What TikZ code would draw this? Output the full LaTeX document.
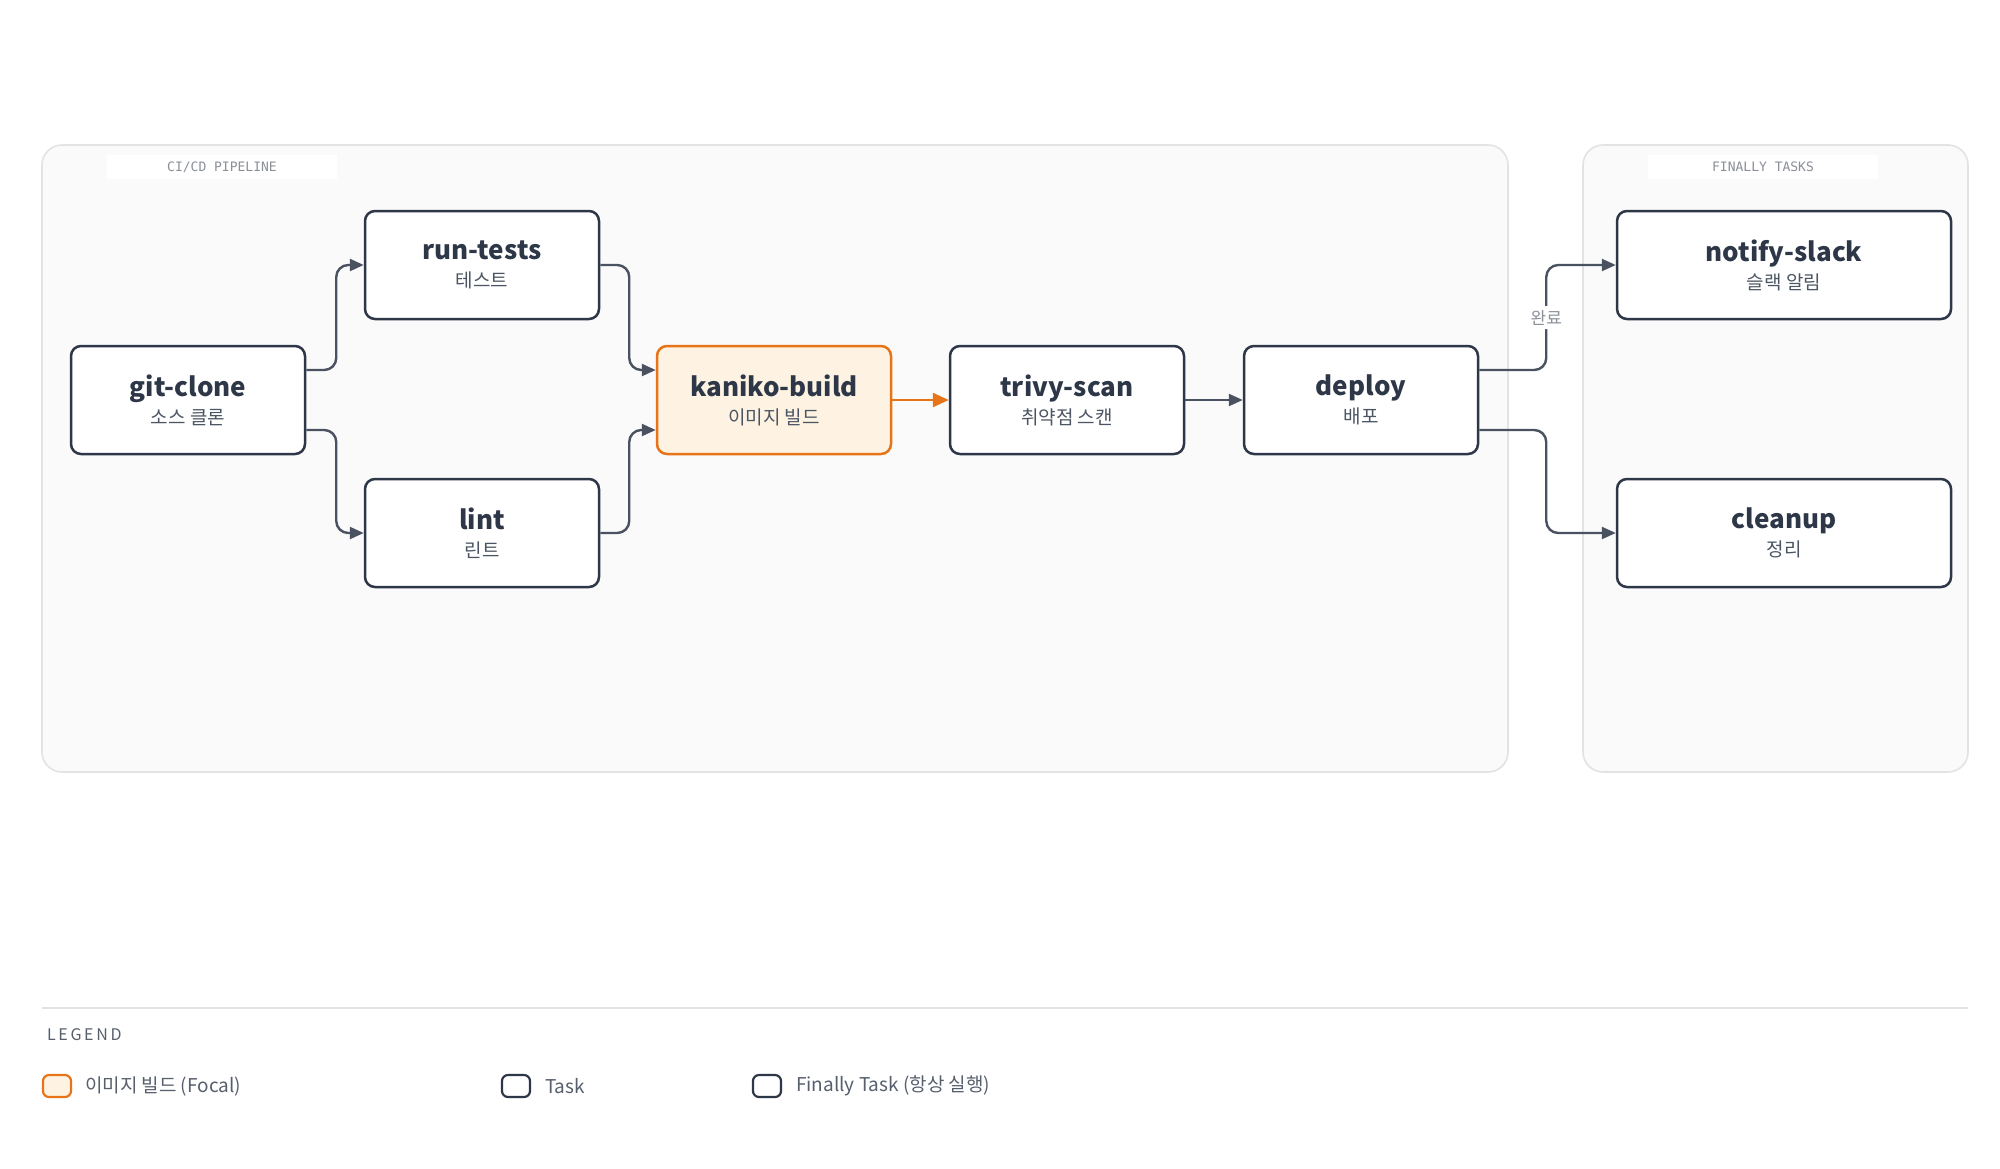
\documentclass[tikz,border=0pt]{standalone}
\usepackage{fontspec}
\setmainfont{Noto Sans CJK KR}
\newfontfamily\monofont{DejaVu Sans Mono}
\usetikzlibrary{arrows.meta}
\definecolor{ink}{HTML}{2D3748}
\definecolor{wire}{HTML}{4A5160}
\definecolor{focal}{HTML}{E8741A}
\definecolor{focalfill}{HTML}{FEF3E2}
\definecolor{panel}{HTML}{FAFAFA}
\definecolor{panelline}{HTML}{E3E3E3}
\definecolor{muted}{HTML}{8A8F98}
\tikzset{
    task/.style = {draw=ink, fill=white, line width=1.25pt, rectangle, rounded corners=5pt, minimum width=117pt, minimum height=54pt, align=center},
    focal-task/.style = {task, draw=focal, fill=focalfill},
    final-task/.style = {task, minimum width=167pt},
    panel-box/.style = {draw=panelline, fill=panel, line width=0.8pt, rounded corners=10pt},
    panel-title/.style = {fill=white, minimum width=115pt, minimum height=9pt, font=\monofont\fontsize{6.5}{7}\selectfont, text=muted},
    edge/.style = {draw=wire, line width=1.2pt, rounded corners=6pt, -{Triangle[length=7pt,width=6pt]}},
    swatch/.style = {draw=ink, line width=1.1pt, rounded corners=3pt, minimum width=14pt, minimum height=11pt, inner sep=0pt},
    legend-text/.style = {font=\fontsize{9.5}{11}\selectfont, text=ink!80, anchor=west},
}
\newcommand{\tasklabel}[2]{{\bfseries\fontsize{13}{15}\selectfont #1}\\[2pt]{\fontsize{9.5}{11}\selectfont\color{ink!85}#2}}

\begin{document}
\begin{tikzpicture}[x=0.5pt,y=-0.5pt,text=ink]
\useasboundingbox[fill=white] (0,0) rectangle (2000,1168);

% panels
\filldraw[panel-box] (42,145) rectangle (1508,772);
\filldraw[panel-box] (1583,145) rectangle (1968,772);
\node[panel-title] (pipelabel) at (222,167) {CI/CD PIPELINE};
\node[panel-title] (finlabel) at (1763,167) {FINALLY TASKS};

% tasks
\node[task] (gitclone) at (188,400) {\tasklabel{git-clone}{소스 클론}};
\node[task] (runtests) at (482,265) {\tasklabel{run-tests}{테스트}};
\node[task] (lint) at (482,533) {\tasklabel{lint}{린트}};
\node[focal-task] (kaniko) at (774,400) {\tasklabel{kaniko-build}{이미지 빌드}};
\node[task] (trivy) at (1067,400) {\tasklabel{trivy-scan}{취약점 스캔}};
\node[task] (deploy) at (1361,400) {\tasklabel{deploy}{배포}};
\node[final-task] (notify) at (1784,265) {\tasklabel{notify-slack}{슬랙 알림}};
\node[final-task] (cleanup) at (1784,533) {\tasklabel{cleanup}{정리}};

% edges
\draw[edge] ([yshift=15pt]gitclone.east) -- ++(15pt,0) |- (runtests.west);
\draw[edge] ([yshift=-15pt]gitclone.east) -- ++(15pt,0) |- (lint.west);
\draw[edge] (runtests.east) -- ++(14.5pt,0) |- ([yshift=15pt]kaniko.west);
\draw[edge] (lint.east) -- ++(14.5pt,0) |- ([yshift=-15pt]kaniko.west);
\draw[edge, draw=focal, -{Triangle[length=8pt,width=7pt]}] (kaniko) -- (trivy);
\draw[edge] (trivy) -- (deploy);
\draw[edge] ([yshift=15pt]deploy.east) -- ++(33.5pt,0) |- (notify.west)
    node[pos=0.25, fill=white, inner sep=2pt, font=\fontsize{8.5}{10}\selectfont, text=muted] (donelabel) {완료};
\draw[edge] ([yshift=-15pt]deploy.east) -- ++(33.5pt,0) |- (cleanup.west);

% legend
\draw[panelline, line width=1pt] (42,1008) -- (1968,1008);
\node[anchor=west, font=\fontsize{8}{9}\selectfont, text=ink!80] (legendtitle) at (40,1035) {L\,E\,G\,E\,N\,D};
\node[swatch, draw=focal, fill=focalfill] (swfocal) at (57,1086) {};
\node[legend-text] (txfocal) at (78,1086) {이미지 빌드 (Focal)};
\node[swatch] (swtask) at (516,1086) {};
\node[legend-text] (txtask) at (538,1086) {Task};
\node[swatch] (swfinal) at (767,1086) {};
\node[legend-text] (txfinal) at (789,1086) {Finally Task (항상 실행)};
\end{tikzpicture}
\end{document}
